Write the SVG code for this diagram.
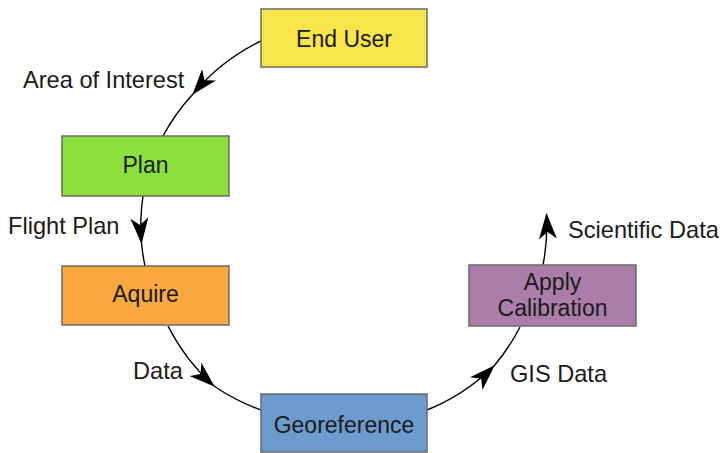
<svg xmlns="http://www.w3.org/2000/svg" width="723" height="453" viewBox="0 0 723 453">
<style>
.box{stroke:#6b6b6b;stroke-width:1.5}
.nt{font-family:"Liberation Sans",Arial,sans-serif;font-size:23px;fill:#1a1a1a;text-anchor:middle}
.lb{font-family:"Liberation Sans",Arial,sans-serif;font-size:23.6px;fill:#1a1a1a}
.c{fill:none;stroke:#000;stroke-width:1.4}
</style>
<defs>
<marker id="ah" viewBox="0 0 26 18" refX="25" refY="9" markerWidth="26" markerHeight="18" markerUnits="userSpaceOnUse" orient="auto">
<path d="M0,0 L26,9 L0,18 L7,9 Z" fill="#000"/>
</marker>
</defs>
<rect width="723" height="453" fill="#fff"/>
<g id="connectors">
<path class="c" d="M261,41 A203,203 0 0 0 193,94" marker-end="url(#ah)"/>
<path class="c" d="M193,94 A203,203 0 0 0 163,136"/>
<path class="c" d="M143,196 A203,203 0 0 0 141.5,243" marker-end="url(#ah)"/>
<path class="c" d="M141.5,243 A203,203 0 0 0 145,266"/>
<path class="c" d="M168,326 A203,203 0 0 0 214,386" marker-end="url(#ah)"/>
<path class="c" d="M214,386 A203,203 0 0 0 261,410"/>
<path class="c" d="M427,410 A203,203 0 0 0 494,366" marker-end="url(#ah)"/>
<path class="c" d="M494,366 A203,203 0 0 0 520,327"/>
<path class="c" d="M543,265 A203,203 0 0 0 546.5,214" marker-end="url(#ah)"/>
</g>
<g id="end-user">
<rect class="box" x="261" y="9" width="166" height="58" fill="#f8e54a"/>
<text class="nt" x="344" y="47">End User</text>
</g>
<g id="plan">
<rect class="box" x="62" y="136" width="167" height="60" fill="#8ce03b"/>
<text class="nt" x="145.5" y="173">Plan</text>
</g>
<g id="aquire">
<rect class="box" x="62" y="266" width="167" height="59" fill="#f9a93f"/>
<text class="nt" x="145.5" y="302">Aquire</text>
</g>
<g id="georeference">
<rect class="box" x="261" y="394" width="166" height="58" fill="#6d9bd0"/>
<text class="nt" x="344" y="433">Georeference</text>
</g>
<g id="apply-calibration">
<rect class="box" x="469" y="265" width="167" height="61" fill="#ab7eaa"/>
<text class="nt" x="552.5" y="290">Apply</text>
<text class="nt" x="552.5" y="316">Calibration</text>
</g>
<g id="labels">
<text class="lb" x="23" y="88">Area of Interest</text>
<text class="lb" x="8" y="234">Flight Plan</text>
<text class="lb" x="133" y="379">Data</text>
<text class="lb" x="510" y="382">GIS Data</text>
<text class="lb" x="568" y="238">Scientific Data</text>
</g>
</svg>
